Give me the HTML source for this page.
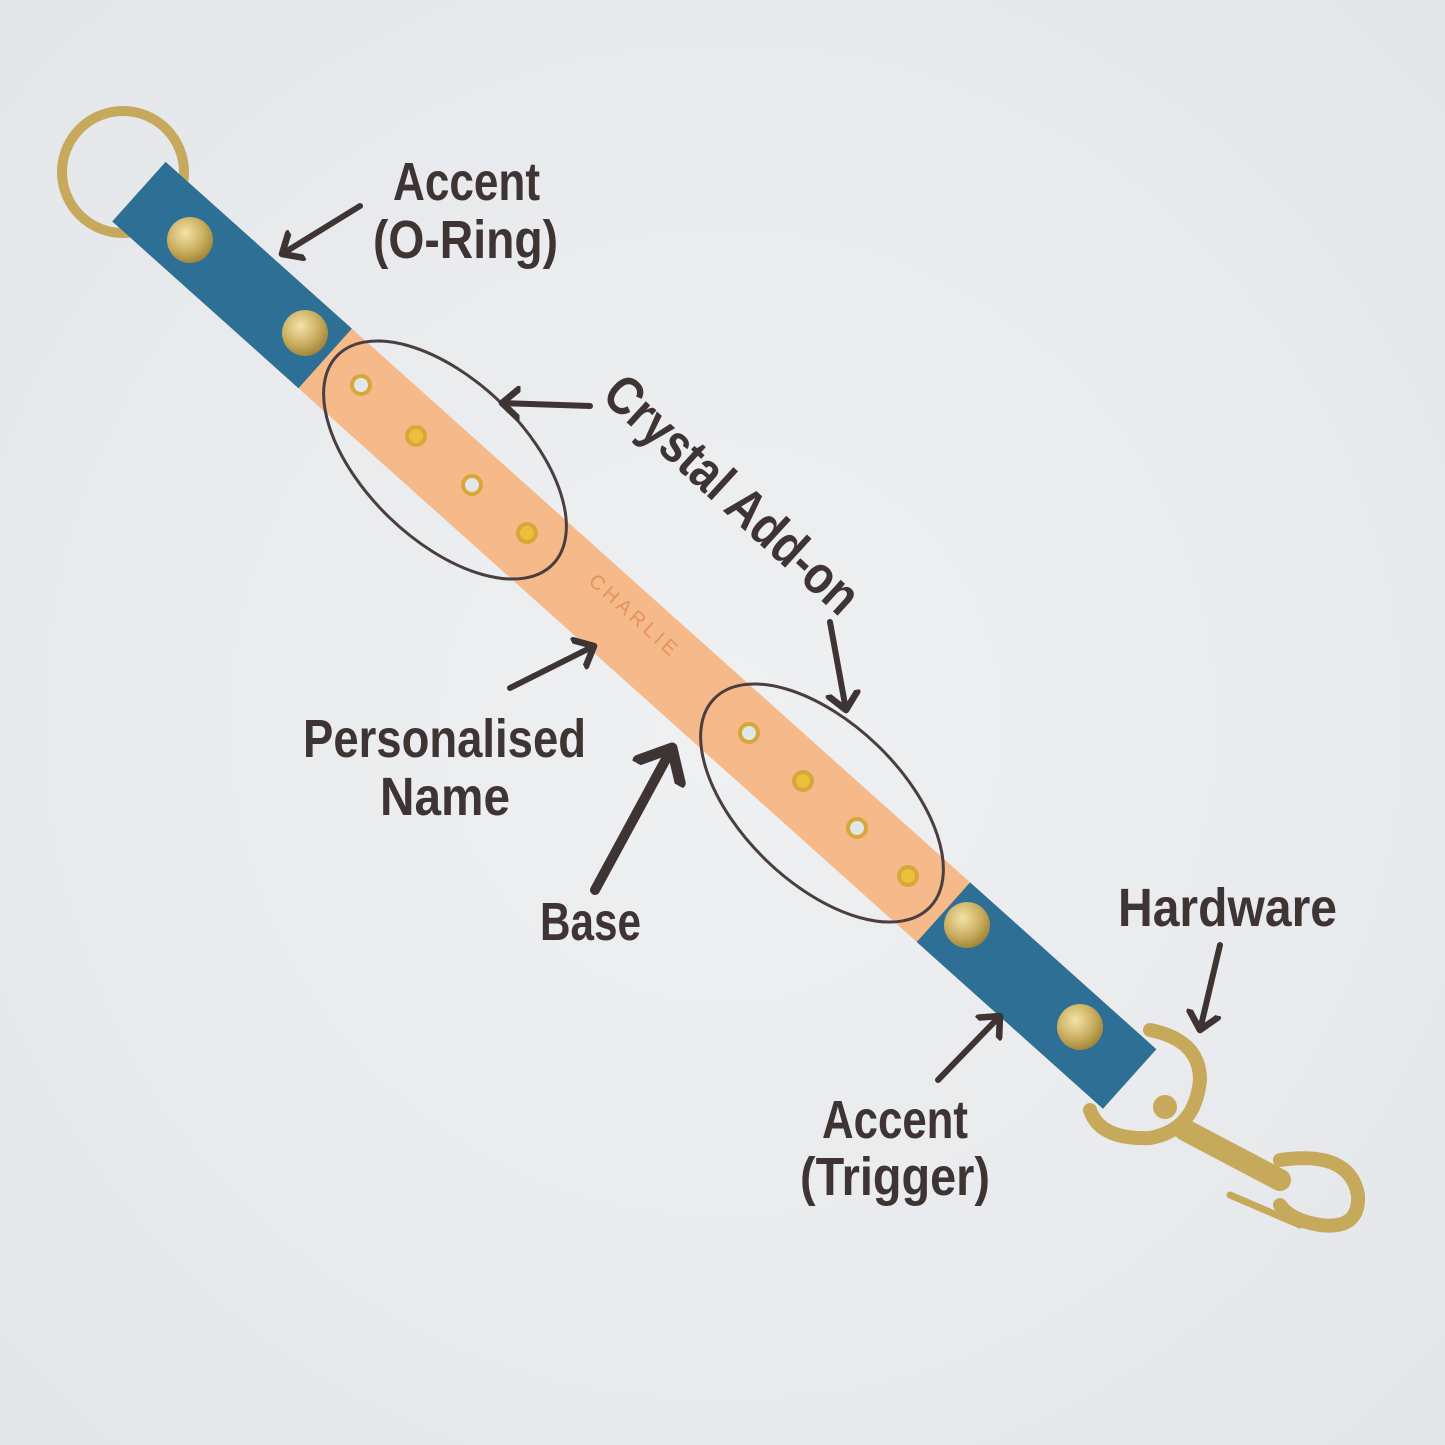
<!DOCTYPE html>
<html><head><meta charset="utf-8"><style>
html,body{margin:0;padding:0;width:1445px;height:1445px;overflow:hidden;background:#eceef0}
svg{display:block}
text{font-family:"Liberation Sans",sans-serif;font-weight:bold;fill:#3e3434}
</style></head><body>
<svg width="1445" height="1445" viewBox="0 0 1445 1445" xmlns="http://www.w3.org/2000/svg">
<defs>
<radialGradient id="bg" cx="0.5" cy="0.5" r="0.75">
<stop offset="0" stop-color="#eff0f2"/><stop offset="1" stop-color="#e3e6e9"/></radialGradient>
<radialGradient id="gold" cx="0.4" cy="0.35" r="0.7">
<stop offset="0" stop-color="#f3e3a8"/><stop offset="0.6" stop-color="#c9ad5e"/><stop offset="1" stop-color="#9c8033"/></radialGradient>
<marker id="ah" markerWidth="6" markerHeight="6" refX="3" refY="3" orient="auto" markerUnits="strokeWidth">
<path d="M0.3,0.6 L3,3 L0.3,5.4" fill="none" stroke="#3e3434" stroke-width="1.1" stroke-linecap="round" stroke-linejoin="round"/></marker>
</defs>
<rect width="1445" height="1445" fill="url(#bg)"/>
<circle cx="123" cy="172" r="61" fill="none" stroke="#c6a95a" stroke-width="10"/>
<g fill="none" stroke="#c6a95a" stroke-linecap="round" stroke-linejoin="round">
<path d="M1150,1030 Q1200,1040 1200,1080 Q1195,1130 1150,1138 Q1100,1140 1090,1110" stroke-width="14"/>
<path d="M1185,1130 L1280,1180" stroke-width="22"/>
<path d="M1280,1160 Q1350,1150 1358,1195 Q1360,1230 1320,1225 Q1290,1220 1280,1205" stroke-width="14"/>
<path d="M1230,1195 L1300,1225" stroke-width="7"/>
</g>
<circle cx="1165" cy="1107" r="12" fill="#c6a95a"/>
<g transform="translate(165,215) rotate(41.85)">
<rect x="-35" y="-40" width="1330" height="80" fill="#f5b98a"/>
<rect x="-35" y="-40" width="250" height="80" fill="#2d6f95"/>
<rect x="1045" y="-40" width="250" height="80" fill="#2d6f95"/>
<text x="560" y="-8" font-size="20" style="fill:#e6925c;font-weight:normal" letter-spacing="4">CHARLIE</text>
</g>
<g fill="url(#gold)">
<circle cx="190" cy="240" r="23"/><circle cx="305" cy="333" r="23"/>
<circle cx="967" cy="925" r="23"/><circle cx="1080" cy="1027" r="23"/>
</g>
<g stroke="#d9a63a" stroke-width="4">
<circle cx="361" cy="385" r="9" fill="#dfe8e6"/><circle cx="416" cy="436" r="9" fill="#e8c03a"/>
<circle cx="472" cy="485" r="9" fill="#dfe8e6"/><circle cx="527" cy="533" r="9" fill="#e8c03a"/>
<circle cx="749" cy="733" r="9" fill="#dfe8e6"/><circle cx="803" cy="781" r="9" fill="#e8c03a"/>
<circle cx="857" cy="828" r="9" fill="#dfe8e6"/><circle cx="908" cy="876" r="9" fill="#e8c03a"/>
</g>
<g fill="none" stroke="#4a3e40" stroke-width="3">
<ellipse cx="445" cy="460" rx="150" ry="80" transform="rotate(44 445 460)"/>
<ellipse cx="822" cy="803" rx="150" ry="80" transform="rotate(44 822 803)"/>
</g>
<g stroke="#3e3434" stroke-width="6" stroke-linecap="round" fill="none" marker-end="url(#ah)">
<line x1="360" y1="206" x2="282" y2="254"/>
<line x1="590" y1="406" x2="502" y2="403"/>
<line x1="830" y1="622" x2="846" y2="710"/>
<line x1="510" y1="688" x2="594" y2="646"/>
<line x1="938" y1="1080" x2="1000" y2="1016"/>
<line x1="1220" y1="945" x2="1200" y2="1030"/>
</g>
<line x1="595" y1="890" x2="672" y2="748" stroke="#3e3434" stroke-width="10" stroke-linecap="round" marker-end="url(#ah)"/>
<g font-size="54">
<text x="393" y="200" textLength="147" lengthAdjust="spacingAndGlyphs">Accent</text>
<text x="373" y="258" textLength="185" lengthAdjust="spacingAndGlyphs">(O-Ring)</text>
<text x="303" y="757" textLength="283" lengthAdjust="spacingAndGlyphs">Personalised</text>
<text x="380" y="815" textLength="130" lengthAdjust="spacingAndGlyphs">Name</text>
<text x="540" y="940" textLength="101" lengthAdjust="spacingAndGlyphs">Base</text>
<text x="1118" y="926" textLength="219" lengthAdjust="spacingAndGlyphs">Hardware</text>
<text x="822" y="1138" textLength="146" lengthAdjust="spacingAndGlyphs">Accent</text>
<text x="800" y="1195" textLength="190" lengthAdjust="spacingAndGlyphs">(Trigger)</text>
</g>
<text x="0" y="0" font-size="54" textLength="325" lengthAdjust="spacingAndGlyphs" transform="translate(600,398) rotate(42.5)">Crystal Add-on</text>
</svg>
</body></html>
